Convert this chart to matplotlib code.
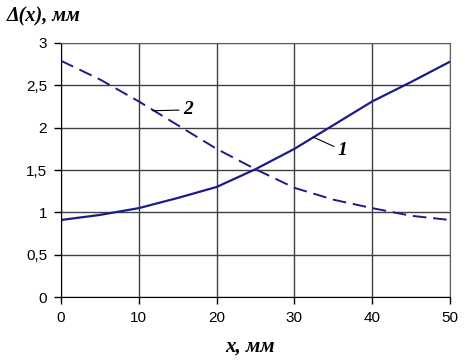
import matplotlib
matplotlib.use("Agg")
import matplotlib.pyplot as plt

x_vals = [0, 5, 10, 15, 20, 25, 30, 35, 40, 45, 50]
curve1 = [0.91, 0.97, 1.05, 1.17, 1.30, 1.51, 1.75, 2.03, 2.31, 2.54, 2.78]
curve2 = [2.79, 2.57, 2.31, 2.03, 1.75, 1.51, 1.29, 1.15, 1.05, 0.96, 0.91]

x_ticks = [0, 10, 20, 30, 40, 50]
y_ticks = [0, 0.5, 1, 1.5, 2, 2.5, 3]
y_tick_labels = ["0", "0,5", "1", "1,5", "2", "2,5", "3"]

fig = plt.figure(figsize=(4.65, 3.61), dpi=100)
ax = fig.add_axes([0.131, 0.177, 0.837, 0.704])

line_color = "#1c1c86"
ax.plot(x_vals, curve1, color=line_color, lw=1.6, solid_capstyle="butt",
        solid_joinstyle="round")
ax.plot(x_vals, curve2, color=line_color, lw=1.4, dashes=(7, 3.5))

ax.set_xlim(0, 50)
ax.set_ylim(0, 3)
ax.set_xticks(x_ticks)
ax.set_yticks(y_ticks)
ax.set_yticklabels(y_tick_labels)
ax.grid(True, color="#404040", lw=1.0)
ax.set_axisbelow(True)
for s in ["top", "right"]:
    ax.spines[s].set_color("#606060")
for s in ["left", "bottom"]:
    ax.spines[s].set_color("black")
ax.tick_params(direction="out", length=5, width=1, labelsize=11, pad=5)
for lab in ax.get_xticklabels() + ax.get_yticklabels():
    lab.set_family("Liberation Sans")

serif = "Liberation Serif"
fig.text(0.015, 0.955, "Δ(x), мм", family=serif, fontstyle="italic", fontweight="bold",
         fontsize=14.5, ha="left", va="center")
fig.text(0.538, 0.039, "x, мм", family=serif, fontstyle="italic", fontweight="bold",
         fontsize=15, ha="center", va="center")

# curve labels with leader lines
ax.annotate("1", xy=(32.4, 1.89), xytext=(35.6, 1.73), family=serif, fontstyle="italic",
            fontweight="bold", fontsize=14, ha="left", va="center",
            arrowprops=dict(arrowstyle="-", color="black", lw=0.8, shrinkA=1, shrinkB=0))
ax.annotate("2", xy=(11.8, 2.2), xytext=(15.7, 2.21), family=serif, fontstyle="italic",
            fontweight="bold", fontsize=14, ha="left", va="center",
            arrowprops=dict(arrowstyle="-", color="black", lw=0.8, shrinkA=1, shrinkB=0))

fig.savefig("out.png", dpi=100)
